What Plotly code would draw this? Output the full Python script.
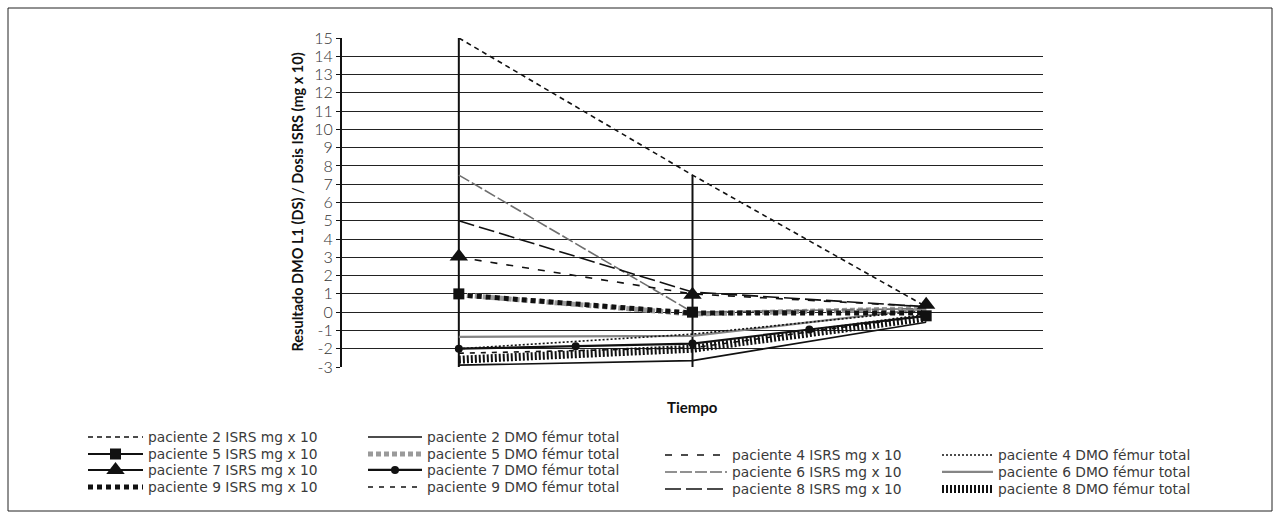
import plotly.graph_objects as go

# ---------------- data ----------------
tiempo = [0, 1, 2]
tiempo_p7_dmo = [0, 0.5, 1, 1.5, 2]

isrs_p2 = [15, 7.5, 0.3]
isrs_p4 = [3, 1.0, 0.3]
isrs_p5 = [1, 0, -0.2]
isrs_p6 = [7.5, 0, 0.2]
isrs_p7 = [3.05, 0.95, 0.4]
isrs_p8 = [5, 1.1, 0.3]
isrs_p9 = [0.95, -0.05, -0.05]

dmo_p2 = [-2.9, -2.65, -0.55]
dmo_p4 = [-2.0, -1.2, 0.1]
dmo_p5 = [0.95, -0.1, 0.2]
dmo_p6 = [-1.35, -1.3, 0.2]
dmo_p7 = [-2.0, -1.87, -1.72, -0.95, -0.2]
dmo_p8 = [-2.6, -2.0, -0.3]
dmo_p9 = [-2.25, -1.95, -0.2]

y_ticks = list(range(-3, 16))
y_min, y_max = -3, 15

# ---------------- layout geometry (pixels) ----------------
W, H = 1280, 519
L, R, T, B = 342, 1043, 38, 367
pw, ph = R - L, B - T


def px_x(p):
    return (p - L) / pw


def px_y(p):
    return (B - p) / ph


BLACK = "#111111"
TXT = "#2a2a2a"
FONT = "Lato"
LEG_FONT = "DejaVu Sans"

fig = go.Figure()

# drop lines (from the top series down to the axis floor)
drop_x, drop_y = [], []
for i in range(2):
    drop_x += [tiempo[i], tiempo[i], None]
    drop_y += [isrs_p2[i], y_min, None]
fig.add_trace(go.Scatter(x=drop_x, y=drop_y, mode="lines",
                         line=dict(color=BLACK, width=2), showlegend=False,
                         hoverinfo="skip"))

# series: name, x, y, line, marker, mode_in_plot, legend slot
series = [
    ("paciente 2 DMO fémur total", tiempo, dmo_p2, dict(color=BLACK, width=1.6), None, "lines", "legend5"),
    ("paciente 6 DMO fémur total", tiempo, dmo_p6, dict(color="#858585", width=2.2), None, "lines", "legend13"),
    ("paciente 4 DMO fémur total", tiempo, dmo_p4, dict(color=BLACK, width=1.6, dash="2px,2px"), None, "lines", "legend12"),
    ("paciente 9 DMO fémur total", tiempo, dmo_p9, dict(color=BLACK, width=1.6, dash="5px,6px"), None, "lines", "legend8"),
    ("paciente 8 DMO fémur total", tiempo, dmo_p8, dict(color=BLACK, width=8, dash="2px,2px"), None, "lines", "legend14"),
    ("paciente 7 DMO fémur total", tiempo_p7_dmo, dmo_p7, dict(color=BLACK, width=2.2), dict(symbol="circle", size=8, color=BLACK), "lines+markers", "legend7"),
    ("paciente 5 DMO fémur total", tiempo, dmo_p5, dict(color="#9a9a9a", width=5, dash="5px,3px"), None, "lines", "legend6"),
    ("paciente 6 ISRS mg x 10", tiempo, isrs_p6, dict(color="#6e6e6e", width=1.6, dash="12px,3px"), None, "lines", "legend10"),
    ("paciente 2 ISRS mg x 10", tiempo, isrs_p2, dict(color=BLACK, width=1.6, dash="5px,4px"), None, "lines", "legend"),
    ("paciente 8 ISRS mg x 10", tiempo, isrs_p8, dict(color=BLACK, width=1.6, dash="16px,5px"), None, "lines", "legend11"),
    ("paciente 4 ISRS mg x 10", tiempo, isrs_p4, dict(color=BLACK, width=1.6, dash="7px,9px"), None, "lines", "legend9"),
    ("paciente 9 ISRS mg x 10", tiempo, isrs_p9, dict(color=BLACK, width=5, dash="5px,4px"), None, "lines", "legend4"),
    ("paciente 5 ISRS mg x 10", tiempo, isrs_p5, dict(color=BLACK, width=2), dict(symbol="square", size=11, color=BLACK), "markers", "legend2"),
    ("paciente 7 ISRS mg x 10", tiempo, isrs_p7, dict(color=BLACK, width=2), dict(symbol="triangle-up", size=16, color=BLACK), "markers", "legend3"),
]

for name, xs, ys, line, marker, mode, leg in series:
    if mode == "markers":
        # markers only in the plot, line + marker in the legend
        fig.add_trace(go.Scatter(x=xs, y=ys, mode="markers", marker=marker,
                                 showlegend=False, name=name))
        fig.add_trace(go.Scatter(x=[None], y=[None], mode="lines+markers",
                                 line=line, marker=marker, name=name,
                                 legend=leg, showlegend=True))
    else:
        kw = dict(x=xs, y=ys, mode=mode, line=line, name=name, legend=leg,
                  showlegend=True)
        if marker:
            kw["marker"] = marker
        fig.add_trace(go.Scatter(**kw))

# legend slots: 4 columns
col_x = {1: 83, 2: 363, 3: 660, 4: 937}
col_w = {1: 55, 2: 54, 3: 62, 4: 51}
slots = {
    "legend": (1, 437), "legend2": (1, 454), "legend3": (1, 470), "legend4": (1, 487),
    "legend5": (2, 437), "legend6": (2, 454), "legend7": (2, 470), "legend8": (2, 487),
    "legend9": (3, 455), "legend10": (3, 472), "legend11": (3, 489),
    "legend12": (4, 455), "legend13": (4, 472), "legend14": (4, 489),
}
legend_layout = {}
for key, (col, yc) in slots.items():
    legend_layout[key] = dict(
        x=px_x(col_x[col]), y=px_y(yc), xanchor="left", yanchor="middle",
        orientation="v", bgcolor="rgba(0,0,0,0)", borderwidth=0,
        itemwidth=col_w[col], font=dict(family=LEG_FONT, size=13.8, color="#3a3a3a"),
        itemclick=False, itemdoubleclick=False,
    )

fig.update_layout(
    width=W, height=H,
    margin=dict(l=L, r=W - R, t=T, b=H - B, pad=0),
    paper_bgcolor="white", plot_bgcolor="white",
    font=dict(family=FONT, color=TXT),
    xaxis=dict(range=[-0.5, 2.5], showgrid=False, zeroline=False,
               showticklabels=False, ticks="", showline=False, fixedrange=True),
    yaxis=dict(range=[y_min, y_max], tickvals=y_ticks,
               ticktext=[str(v) for v in y_ticks],
               showgrid=True, gridcolor="#222222", gridwidth=1,
               zeroline=False, showline=True, linecolor=BLACK, linewidth=2,
               ticks="outside", ticklen=4, tickcolor=BLACK, tickwidth=1,
               tickfont=dict(family=FONT, size=16, color="#333333", weight=300),
               fixedrange=True),
    annotations=[
        dict(text="<b>Tiempo</b>", x=0.5, y=px_y(407), xref="paper", yref="paper",
             showarrow=False, font=dict(family=FONT, size=15, color=BLACK),
             xanchor="center", yanchor="middle"),
        dict(text="<b>Resultado DMO L1 (DS) / Dosis ISRS (mg x 10)</b>",
             x=px_x(297), y=0.5, xref="paper", yref="paper", textangle=-90,
             showarrow=False, font=dict(family=FONT, size=14.5, color=BLACK),
             xanchor="center", yanchor="middle"),
    ],
    shapes=[
        dict(type="rect", xref="paper", yref="paper",
             x0=px_x(8), x1=px_x(1272), y0=px_y(511), y1=px_y(8),
             line=dict(color="#222222", width=1), fillcolor="rgba(0,0,0,0)",
             layer="below"),
    ],
    **legend_layout,
)

fig.write_html("out.html")
